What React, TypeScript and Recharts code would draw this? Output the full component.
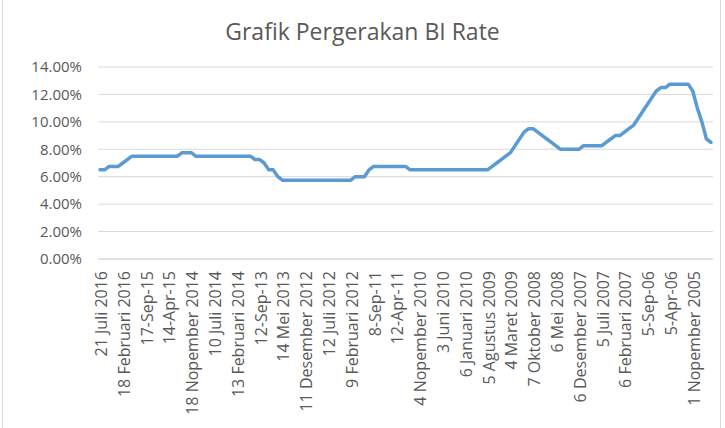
import React from 'react';
import { LineChart, Line, XAxis, YAxis, CartesianGrid } from 'recharts';

// BI Rate per Dewan Gubernur meeting, newest first (percent)
const rates = [
  6.5, 6.5, 6.75, 6.75, 6.75, 7.0, 7.25, 7.5, 7.5, 7.5,
  7.5, 7.5, 7.5, 7.5, 7.5, 7.5, 7.5, 7.5, 7.75, 7.75,
  7.75, 7.5, 7.5, 7.5, 7.5, 7.5, 7.5, 7.5, 7.5, 7.5,
  7.5, 7.5, 7.5, 7.5, 7.25, 7.25, 7.0, 6.5, 6.5, 6.0,
  5.75, 5.75, 5.75, 5.75, 5.75, 5.75, 5.75, 5.75, 5.75, 5.75,
  5.75, 5.75, 5.75, 5.75, 5.75, 5.75, 6.0, 6.0, 6.0, 6.5,
  6.75, 6.75, 6.75, 6.75, 6.75, 6.75, 6.75, 6.75, 6.5, 6.5,
  6.5, 6.5, 6.5, 6.5, 6.5, 6.5, 6.5, 6.5, 6.5, 6.5,
  6.5, 6.5, 6.5, 6.5, 6.5, 6.5, 6.75, 7.0, 7.25, 7.5,
  7.75, 8.25, 8.75, 9.25, 9.5, 9.5, 9.25, 9.0, 8.75, 8.5,
  8.25, 8.0, 8.0, 8.0, 8.0, 8.0, 8.25, 8.25, 8.25, 8.25,
  8.25, 8.5, 8.75, 9.0, 9.0, 9.25, 9.5, 9.75, 10.25, 10.75,
  11.25, 11.75, 12.25, 12.5, 12.5, 12.75, 12.75, 12.75, 12.75, 12.75,
  12.25, 11.0, 10.0, 8.75, 8.5,
];

// every fifth meeting date is printed on the axis
const tickLabels = [
  '21 Juli 2016', '18 Februari 2016', '17-Sep-15', '14-Apr-15',
  '18 Nopember 2014', '10 Juli 2014', '13 Februari 2014', '12-Sep-13',
  '14 Mei 2013', '11 Desember 2012', '12 Juli 2012', '9 Februari 2012',
  '8-Sep-11', '12-Apr-11', '4 Nopember 2010', '3 Juni 2010',
  '6 Januari 2010', '5 Agustus 2009', '4 Maret 2009', '7 Oktober 2008',
  '6 Mei 2008', '6 Desember 2007', '5 Juli 2007', '6 Februari 2007',
  '5-Sep-06', '5-Apr-06', '1 Nopember 2005',
];

const yTicks = [0, 2, 4, 6, 8, 10, 12, 14];

const FONT = '"Open Sans", Calibri, sans-serif';
const TEXT = '#595959';

const data = rates.map((rate, i) => ({ i, rate }));

const DateTick = (props: any) => {
  const { x, y, payload } = props;
  const label = tickLabels[payload.value / 5] ?? '';
  return (
    <text
      x={x + 1}
      y={y}
      transform={`rotate(-90 ${x + 1} ${y})`}
      textAnchor="end"
      dominantBaseline="central"
      fill={TEXT}
      fontSize={16}
      fontFamily={FONT}
    >
      {label}
    </text>
  );
};

export default function App() {
  return (
    <div
      style={{
        position: 'fixed',
        left: 0,
        top: 0,
        width: 725,
        height: 428,
        background: '#fff',
        overflow: 'hidden',
      }}
    >
      <div
        style={{
          position: 'absolute',
          left: 2,
          top: -1,
          width: 719,
          height: 432,
          border: '1px solid #d9d9d9',
          boxSizing: 'border-box',
        }}
      />
      <div
        style={{
          position: 'absolute',
          left: 0,
          top: 15,
          width: 725,
          textAlign: 'center',
          fontFamily: FONT,
          fontSize: 23,
          color: TEXT,
          lineHeight: 'normal',
        }}
      >
        Grafik Pergerakan BI Rate
      </div>
      <div style={{ position: 'absolute', left: 0, top: 0 }}>
        <LineChart
          width={725}
          height={428}
          data={data}
          margin={{ top: 67, right: 12, left: 0, bottom: 0 }}
        >
          <CartesianGrid vertical={false} stroke="#d9d9d9" strokeWidth={1} />
          <XAxis
            dataKey="i"
            type="category"
            interval={4}
            height={169}
            tickSize={0}
            tickMargin={12}
            axisLine={{ stroke: '#d9d9d9' }}
            tickLine={false}
            padding={{ left: 2, right: 2 }}
            tick={<DateTick />}
          />
          <YAxis
            width={98}
            domain={[0, 14]}
            ticks={yTicks}
            tickFormatter={(v: number) => `${v.toFixed(2)}%`}
            axisLine={false}
            tickLine={false}
            tickSize={0}
            tickMargin={16}
            tick={{ fill: TEXT, fontSize: 15, fontFamily: FONT }}
          />
          <Line
            type="linear"
            dataKey="rate"
            stroke="#5b9bd5"
            strokeWidth={3.5}
            strokeLinejoin="round"
            strokeLinecap="round"
            dot={false}
            activeDot={false}
            isAnimationActive={false}
          />
        </LineChart>
      </div>
    </div>
  );
}
